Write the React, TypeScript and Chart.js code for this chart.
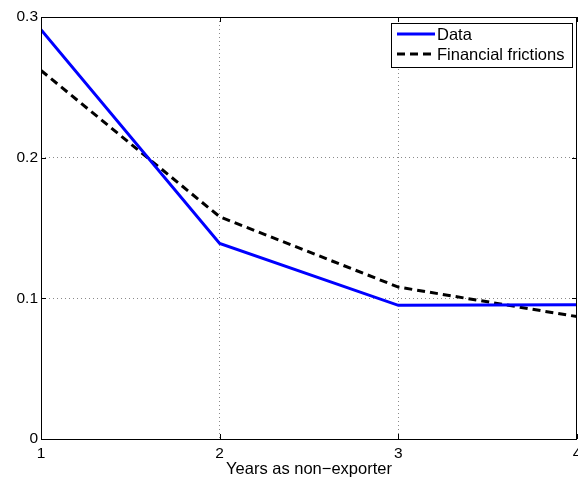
import React, { useEffect, useRef } from "react";
import { Chart, registerables } from "chart.js";

Chart.register(...registerables);

const years = [1, 2, 3, 4];
const dataSeries = [0.291, 0.139, 0.095, 0.0955];
const frictionSeries = [0.262, 0.158, 0.108, 0.087];
const yTicks = [0, 0.1, 0.2, 0.3];
const xTitle = "Years as non\u2212exporter";
const FONT = "'Liberation Sans', Arial, sans-serif";

const boxPlugin = {
  id: "matlabBox",
  afterDraw(chart: any) {
    const { ctx, chartArea } = chart;
    const { left, right, top, bottom } = chartArea;
    ctx.save();
    ctx.strokeStyle = "#000";
    ctx.lineWidth = 1;
    ctx.strokeRect(Math.round(left) + 0.5, Math.round(top) + 0.5, Math.round(right - left) - 1, Math.round(bottom - top));
    const xs = chart.scales.x;
    const ys = chart.scales.y;
    const tl = 5;
    ctx.beginPath();
    years.forEach((v) => {
      const px = Math.round(xs.getPixelForValue(v)) + 0.5;
      ctx.moveTo(px, bottom);
      ctx.lineTo(px, bottom - tl);
      ctx.moveTo(px, top);
      ctx.lineTo(px, top + tl);
    });
    yTicks.forEach((v) => {
      const py = Math.round(ys.getPixelForValue(v)) + 0.5;
      ctx.moveTo(left, py);
      ctx.lineTo(left + tl, py);
      ctx.moveTo(right, py);
      ctx.lineTo(right - tl, py);
    });
    ctx.stroke();

    // legend
    const lx = 391, ly = 23, lw = 181, lh = 44;
    ctx.fillStyle = "#fff";
    ctx.fillRect(lx, ly, lw, lh);
    ctx.strokeStyle = "#000";
    ctx.lineWidth = 1;
    ctx.strokeRect(lx + 0.5, ly + 0.5, lw, lh);
    const rows = [34, 54];
    chart.data.datasets.forEach((ds: any, i: number) => {
      const y = rows[i];
      ctx.save();
      ctx.strokeStyle = ds.borderColor;
      ctx.lineWidth = ds.borderWidth;
      ctx.setLineDash(ds.borderDash || []);
      ctx.beginPath();
      ctx.moveTo(397, y);
      ctx.lineTo(435, y);
      ctx.stroke();
      ctx.restore();
      ctx.fillStyle = "#000";
      ctx.font = `16.5px ${FONT}`;
      ctx.textBaseline = "middle";
      ctx.textAlign = "left";
      ctx.fillText(ds.label, 437, y + 1);
    });
    ctx.restore();
  },
};

export default function App() {
  const ref = useRef<HTMLCanvasElement>(null);
  useEffect(() => {
    if (!ref.current) return;
    const chart = new Chart(ref.current, {
      type: "line",
      data: {
        datasets: [
          {
            label: "Data",
            data: years.map((x, i) => ({ x, y: dataSeries[i] })),
            borderColor: "#0000ff",
            borderWidth: 3,
            pointRadius: 0,
            fill: false,
            tension: 0,
          },
          {
            label: "Financial frictions",
            data: years.map((x, i) => ({ x, y: frictionSeries[i] })),
            borderColor: "#000000",
            borderWidth: 3,
            borderDash: [8, 5],
            pointRadius: 0,
            fill: false,
            tension: 0,
          },
        ],
      },
      options: {
        animation: false,
        responsive: false,
        maintainAspectRatio: false,
        layout: { padding: { top: 17, right: 1, left: 0, bottom: 0 } },
        plugins: { legend: { display: false }, tooltip: { enabled: false } },
        scales: {
          x: {
            type: "linear",
            min: 1,
            max: 4,
            afterBuildTicks: (s: any) => {
              s.ticks = years.map((v) => ({ value: v }));
            },
            afterFit: (s: any) => {
              s.height = 44;
              s.paddingLeft = 0;
              s.paddingRight = 0;
            },
            ticks: {
              color: "#000",
              font: { family: FONT, size: 15.5 },
              padding: 5,
              maxRotation: 0,
              callback: (v: any) => String(v),
            },
            grid: {
              drawTicks: false,
              color: (c: any) =>
                c.tick && (c.tick.value === 1 || c.tick.value === 4) ? "rgba(0,0,0,0)" : "#8a8a8a",
              lineWidth: 1,
            },
            border: { display: false, dash: [1, 3] } as any,
            title: {
              display: true,
              text: xTitle,
              color: "#000",
              font: { family: FONT, size: 16.5 },
              padding: { top: 0, bottom: 4 },
            },
          },
          y: {
            min: 0,
            max: 0.3,
            afterBuildTicks: (s: any) => {
              s.ticks = yTicks.map((v) => ({ value: v }));
            },
            afterFit: (s: any) => {
              s.width = 41;
            },
            ticks: {
              color: "#000",
              font: { family: FONT, size: 15.5 },
              padding: 3,
              callback: (v: any) => (v === 0 ? "0" : Number(v).toFixed(1)),
            },
            grid: {
              drawTicks: false,
              color: (c: any) =>
                c.tick && (c.tick.value === 0 || Math.abs(c.tick.value - 0.3) < 1e-9)
                  ? "rgba(0,0,0,0)"
                  : "#8a8a8a",
              lineWidth: 1,
            },
            border: { display: false, dash: [1, 3] } as any,
          },
        },
        elements: { line: { borderCapStyle: "butt" } },
      } as any,
      plugins: [boxPlugin],
    });
    return () => chart.destroy();
  }, []);
  return (
    <div style={{ position: "fixed", left: 0, top: 0, width: 578, height: 483, background: "#fff" }}>
      <canvas ref={ref} width={578} height={483} style={{ width: 578, height: 483 }} />
    </div>
  );
}
